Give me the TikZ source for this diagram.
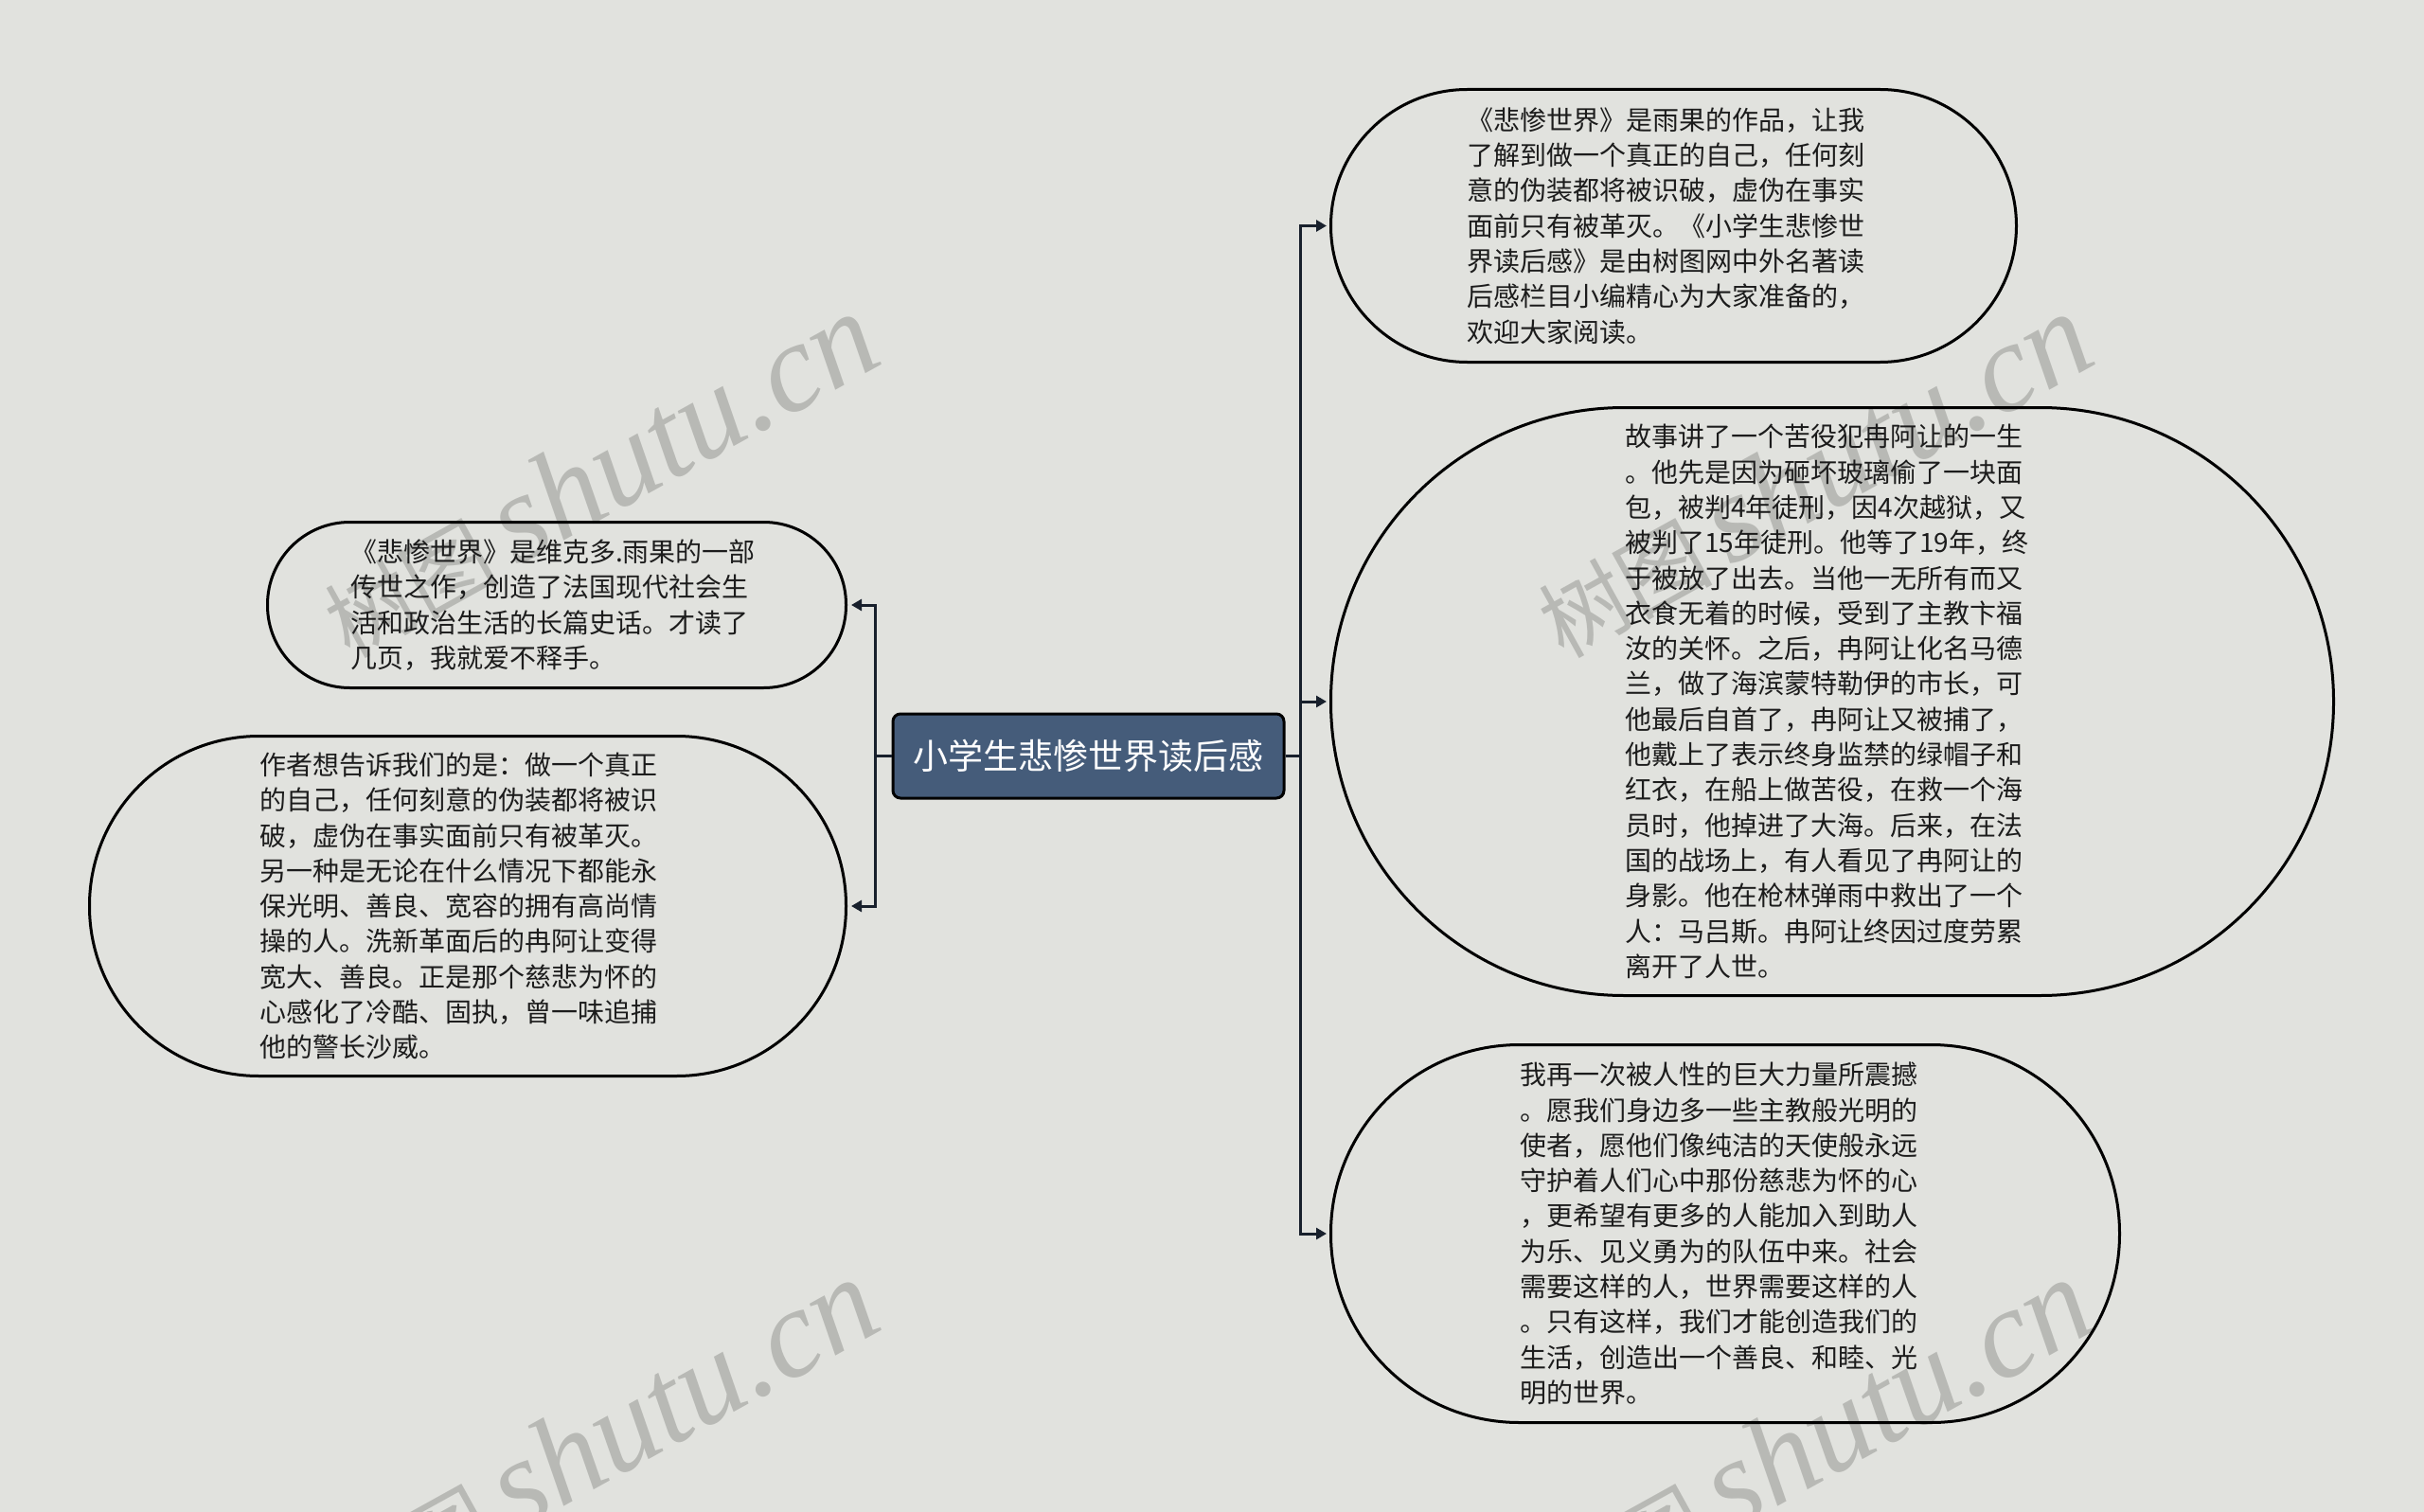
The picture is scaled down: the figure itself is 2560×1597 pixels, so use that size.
\documentclass[tikz,border=0pt]{standalone}
\usepackage{fontspec}
\setmainfont{Noto Sans CJK SC}
\newfontfamily\wmlatin{Liberation Serif}
\usetikzlibrary{arrows.meta}
\definecolor{bgc}{RGB}{225,226,222}
\definecolor{rootfill}{RGB}{69,92,122}
\definecolor{linec}{RGB}{24,32,44}
\definecolor{txtc}{RGB}{28,28,28}
\definecolor{wmc}{RGB}{184,185,181}
\newcommand{\wmtext}{\fontsize{92pt}{92pt}\selectfont 树图\hspace{18pt}\wmlatin\itshape\fontsize{133pt}{133pt}\selectfont shutu.cn}
\begin{document}
\begin{tikzpicture}[x=1pt,y=-1pt,
  bubble/.style={draw=black, line width=3pt, inner sep=0pt, align=left, text=txtc,
    font=\fontsize{28pt}{37.3pt}\selectfont},
  rootbox/.style={draw=black, fill=rootfill, line width=3pt, rounded corners=8pt,
    minimum width=413pt, minimum height=89pt, inner sep=0pt, text=white,
    font=\fontsize{37pt}{44pt}\selectfont},
  conn/.style={draw=linec, line width=3pt, -{Triangle[length=11pt,width=12pt]}},
  wm/.style={text=wmc, inner sep=0pt, anchor=base west, rotate=29}
]
\useasboundingbox[fill=bgc] (0,0) rectangle (2560,1597);

% watermarks
\node[wm] (w1) at (369,697) {\wmtext};
\node[wm] (w2) at (1651,697) {\wmtext};
\node[wm] (w3) at (369,1717) {\wmtext};
\node[wm] (w4) at (1651,1717) {\wmtext};

% root
\node[rootbox] (root) at (1149.5,798.5) {小学生悲惨世界读后感};

% right side
\node[bubble, minimum width=724pt, minimum height=288pt, rounded corners=144pt, text width=436pt]
  (A) at (1767.5,238.5) {《悲惨世界》是雨果的作品，让我\\了解到做一个真正的自己，任何刻\\意的伪装都将被识破，虚伪在事实\\面前只有被革灭。《小学生悲惨世\\界读后感》是由树图网中外名著读\\后感栏目小编精心为大家准备的，\\欢迎大家阅读。};

\node[bubble, minimum width=1059pt, minimum height=621pt, rounded corners=310pt, text width=438pt]
  (B) at (1935,741) {故事讲了一个苦役犯冉阿让的一生\\。他先是因为砸坏玻璃偷了一块面\\包，被判4年徒刑，因4次越狱，又\\被判了15年徒刑。他等了19年，终\\于被放了出去。当他一无所有而又\\衣食无着的时候，受到了主教卞福\\汝的关怀。之后，冉阿让化名马德\\兰，做了海滨蒙特勒伊的市长，可\\他最后自首了，冉阿让又被捕了，\\他戴上了表示终身监禁的绿帽子和\\红衣，在船上做苦役，在救一个海\\员时，他掉进了大海。后来，在法\\国的战场上，有人看见了冉阿让的\\身影。他在枪林弹雨中救出了一个\\人：马吕斯。冉阿让终因过度劳累\\离开了人世。};

\node[bubble, minimum width=833pt, minimum height=399pt, rounded corners=199pt, text width=434pt]
  (C) at (1822,1303) {我再一次被人性的巨大力量所震撼\\。愿我们身边多一些主教般光明的\\使者，愿他们像纯洁的天使般永远\\守护着人们心中那份慈悲为怀的心\\，更希望有更多的人能加入到助人\\为乐、见义勇为的队伍中来。社会\\需要这样的人，世界需要这样的人\\。只有这样，我们才能创造我们的\\生活，创造出一个善良、和睦、光\\明的世界。};

% left side
\node[bubble, minimum width=611pt, minimum height=175pt, rounded corners=87pt, text width=436pt]
  (D) at (588,639) {《悲惨世界》是维克多.雨果的一部\\传世之作，创造了法国现代社会生\\活和政治生活的长篇史话。才读了\\几页，我就爱不释手。};

\node[bubble, minimum width=799pt, minimum height=359pt, rounded corners=179pt, text width=440pt]
  (E) at (494,957) {作者想告诉我们的是：做一个真正\\的自己，任何刻意的伪装都将被识\\破，虚伪在事实面前只有被革灭。\\另一种是无论在什么情况下都能永\\保光明、善良、宽容的拥有高尚情\\操的人。洗新革面后的冉阿让变得\\宽大、善良。正是那个慈悲为怀的\\心感化了冷酷、固执，曾一味追捕\\他的警长沙威。};

% connectors
\draw[conn, shorten >=4pt] (root.west) -- ++(-17,0) |- (D.east);
\draw[conn, shorten >=4pt] (root.west) -- ++(-17,0) |- (E.east);
\draw[conn, shorten >=3pt] (root.east) -- ++(16,0) |- (A.west);
\draw[conn, shorten >=3pt] (root.east) -- ++(16,0) |- (B.west);
\draw[conn, shorten >=3pt] (root.east) -- ++(16,0) |- (C.west);
\end{tikzpicture}
\end{document}
